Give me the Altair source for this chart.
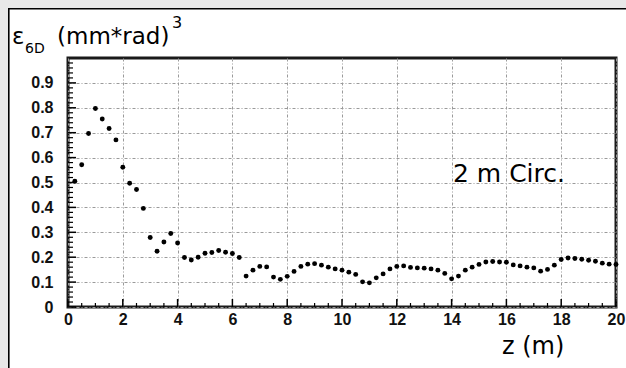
import altair as alt
import pandas as pd

# ---- data ----
z_m = [0.25, 0.5, 0.75, 1.0, 1.25, 1.5, 1.75, 2.0, 2.25, 2.5, 2.75, 3.0, 3.25, 3.5, 3.75, 4.0,
       4.25, 4.5, 4.75, 5.0, 5.25, 5.5, 5.75, 6.0, 6.25, 6.5, 6.75, 7.0, 7.25, 7.5, 7.75, 8.0,
       8.25, 8.5, 8.75, 9.0, 9.25, 9.5, 9.75, 10.0, 10.25, 10.5, 10.75, 11.0, 11.25, 11.5, 11.75,
       12.0, 12.25, 12.5, 12.75, 13.0, 13.25, 13.5, 13.75, 14.0, 14.25, 14.5, 14.75, 15.0, 15.25,
       15.5, 15.75, 16.0, 16.25, 16.5, 16.75, 17.0, 17.25, 17.5, 17.75, 18.0, 18.25, 18.5, 18.75,
       19.0, 19.25, 19.5, 19.75, 20.0]
emit = [0.505, 0.571, 0.697, 0.797, 0.755, 0.717, 0.671, 0.561, 0.497, 0.472, 0.396, 0.279,
        0.224, 0.261, 0.295, 0.257, 0.199, 0.189, 0.200, 0.216, 0.219, 0.227, 0.220, 0.215,
        0.199, 0.124, 0.148, 0.163, 0.161, 0.120, 0.111, 0.123, 0.143, 0.163, 0.172, 0.174,
        0.168, 0.160, 0.153, 0.148, 0.140, 0.131, 0.101, 0.097, 0.117, 0.133, 0.153, 0.163,
        0.165, 0.159, 0.157, 0.156, 0.153, 0.148, 0.135, 0.113, 0.124, 0.148, 0.160, 0.171,
        0.181, 0.183, 0.181, 0.180, 0.169, 0.165, 0.160, 0.157, 0.144, 0.151, 0.168, 0.191,
        0.197, 0.195, 0.192, 0.188, 0.184, 0.176, 0.172, 0.171]

x_major = [0, 2, 4, 6, 8, 10, 12, 14, 16, 18, 20]
x_minor = [0.5, 1, 1.5, 2.5, 3, 3.5, 4.5, 5, 5.5, 6.5, 7, 7.5, 8.5, 9, 9.5, 10.5, 11, 11.5,
           12.5, 13, 13.5, 14.5, 15, 15.5, 16.5, 17, 17.5, 18.5, 19, 19.5]
y_major = [0, 0.1, 0.2, 0.3, 0.4, 0.5, 0.6, 0.7, 0.8, 0.9]
y_minor = [0.02, 0.04, 0.06, 0.08, 0.12, 0.14, 0.16, 0.18, 0.22, 0.24, 0.26, 0.28,
           0.32, 0.34, 0.36, 0.38, 0.42, 0.44, 0.46, 0.48, 0.52, 0.54, 0.56, 0.58,
           0.62, 0.64, 0.66, 0.68, 0.72, 0.74, 0.76, 0.78, 0.82, 0.84, 0.86, 0.88,
           0.92, 0.94, 0.96, 0.98]

W, H = 548, 249
PL, PT = 68, 58

xscale = alt.Scale(domain=[0, 20], nice=False, zero=False)
yscale = alt.Scale(domain=[0, 1.0], nice=False, zero=False)

grid_dash = [3, 2, 1, 2]
xaxis = alt.Axis(values=x_major, title=None, ticks=False, domain=False, grid=True,
                 gridColor="#9a9a9a", gridDash=grid_dash, gridWidth=1,
                 labelFont="Liberation Sans", labelFontWeight="bold", labelFontSize=16,
                 labelColor="#111", labelPadding=4, labelFlush=False)
yaxis = alt.Axis(values=y_major, title=None, ticks=False, domain=False, grid=True,
                 gridColor="#9a9a9a", gridDash=grid_dash, gridWidth=1,
                 labelFont="Liberation Sans", labelFontWeight="bold", labelFontSize=16,
                 labelColor="#111", labelPadding=15,
                 labelExpr="datum.value == 0 ? '0' : format(datum.value, '.1f')")

df = pd.DataFrame({"z": z_m, "v": emit})
one = pd.DataFrame({"a": [0]})

points = alt.Chart(df).mark_circle(size=24, color="#000", opacity=1).encode(
    x=alt.X("z:Q", scale=xscale, axis=xaxis),
    y=alt.Y("v:Q", scale=yscale, axis=yaxis),
)

xt_major = alt.Chart(pd.DataFrame({"z": x_major})).mark_rule(color="#000", strokeWidth=1.5).encode(
    x=alt.X("z:Q", scale=xscale, axis=xaxis), y=alt.value(H), y2=alt.value(H - 8))
xt_minor = alt.Chart(pd.DataFrame({"z": x_minor})).mark_rule(color="#000", strokeWidth=1.2).encode(
    x=alt.X("z:Q", scale=xscale, axis=xaxis), y=alt.value(H), y2=alt.value(H - 4))
yt_major = alt.Chart(pd.DataFrame({"v": y_major})).mark_rule(color="#000", strokeWidth=1.5).encode(
    y=alt.Y("v:Q", scale=yscale, axis=yaxis), x=alt.value(0), x2=alt.value(8))
yt_minor = alt.Chart(pd.DataFrame({"v": y_minor})).mark_rule(color="#000", strokeWidth=1.2).encode(
    y=alt.Y("v:Q", scale=yscale, axis=yaxis), x=alt.value(0), x2=alt.value(5))

# frame around the picture
grey_left = alt.Chart(one).mark_rect(color="#e8e8e8").encode(
    x=alt.value(-PL), x2=alt.value(8 - PL), y=alt.value(-PT), y2=alt.value(368 - PT))
grey_top = alt.Chart(one).mark_rect(color="#e8e8e8").encode(
    x=alt.value(-PL), x2=alt.value(626 - PL), y=alt.value(-PT), y2=alt.value(8 - PT))
black_left = alt.Chart(one).mark_rect(color="#000").encode(
    x=alt.value(8 - PL), x2=alt.value(9.6 - PL), y=alt.value(8 - PT), y2=alt.value(368 - PT))
black_top = alt.Chart(one).mark_rect(color="#000").encode(
    x=alt.value(8 - PL), x2=alt.value(626 - PL), y=alt.value(8 - PT), y2=alt.value(9.6 - PT))

def label(text, x, y, size, align="left", font="DejaVu Sans"):
    return alt.Chart(one).mark_text(text=text, align=align, baseline="alphabetic",
                                    font=font, fontSize=size, color="#000").encode(
        x=alt.value(x - PL), y=alt.value(y - PT))

t_eps = label("ε", 12, 44, 23)
t_sub = label("6D", 25, 53, 14)
t_unit = label("(mm*rad)", 57, 44, 23)
t_sup = label("3", 172, 28, 16)
t_circ = label("2 m Circ.", 509, 182, 25, align="center")
t_z = label("z (m)", 502, 354, 24)

chart = alt.layer(
    grey_left, grey_top, black_left, black_top,
    points, xt_major, xt_minor, yt_major, yt_minor,
    t_eps, t_sub, t_unit, t_sup, t_circ, t_z,
).properties(
    width=W, height=H,
    autosize=alt.AutoSizeParams(type="none"),
    padding={"left": PL, "top": PT, "right": 626 - PL - W, "bottom": 368 - PT - H},
    background="white",
).configure_view(stroke="#1a1a1a", strokeWidth=3)

chart.save("out.html", embed_options={"renderer": "svg", "actions": False})
